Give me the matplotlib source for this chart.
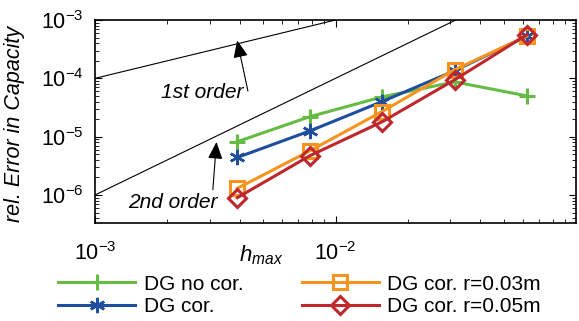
import numpy as np
import matplotlib
matplotlib.use("Agg")
import matplotlib.pyplot as plt
from matplotlib.ticker import LogLocator, NullFormatter

plt.rcParams['font.family'] = ['Liberation Sans', 'DejaVu Sans']
plt.rcParams['mathtext.fontset'] = 'custom'
plt.rcParams['mathtext.rm'] = 'Liberation Sans'
plt.rcParams['mathtext.it'] = 'Liberation Sans:italic'

# mesh size h_max
h = [1/256, 1/128, 1/64, 1/32, 1/16]

# relative error in capacity
err_nocor = [8.2e-6, 2.2e-5, 4.8e-5, 8.7e-5, 5.0e-5]
err_cor = [4.4e-6, 1.25e-5, 4.0e-5, 1.35e-4, 5.3e-4]
err_cor_r003 = [1.3e-6, 5.7e-6, 2.7e-5, 1.4e-4, 5.3e-4]
err_cor_r005 = [9.0e-7, 4.7e-6, 1.8e-5, 9.4e-5, 5.6e-4]

labels = ['DG no cor.', 'DG cor.', 'DG cor. r=0.03m', 'DG cor. r=0.05m']

# reference slopes
h_ref = [1e-3, 1e-1]

fig = plt.figure(figsize=(5.79, 3.21), dpi=100)
ax = fig.add_axes([95/579, 1 - 223/321, (576-95)/579, (223-20)/321])

ax.loglog(h_ref, [0.1*x for x in h_ref], color='black', lw=0.8)
ax.loglog(h_ref, [x**2 for x in h_ref], color='black', lw=0.8)

l1, = ax.loglog(h, err_nocor, color='#66bb44', lw=2.2, marker='+', ms=11, mew=2.2, label=labels[0])
l2, = ax.loglog(h, err_cor, color='#1f4e9e', lw=2.2, marker=(6, 2, 0), ms=11, mew=1.8, label=labels[1])
l3, = ax.loglog(h, err_cor_r003, color='#f7941d', lw=2.2, marker='s', ms=9.5, mew=2.2,
                mfc='none', label=labels[2])
l4, = ax.loglog(h, err_cor_r005, color='#c0272d', lw=2.2, marker='D', ms=9, mew=2.2,
                mfc='none', label=labels[3])

ax.set_xlim(1e-3, 1e-1)
ax.set_ylim(10**-6.48, 1e-3)

ax.set_xticks([1e-3, 1e-2])
ax.set_xticklabels([r'$10^{-3}$', r'$10^{-2}$'])
ax.set_yticks([1e-6, 1e-5, 1e-4, 1e-3])
ax.set_yticklabels([r'$10^{-6}$', r'$10^{-5}$', r'$10^{-4}$', r'$10^{-3}$'])
ax.xaxis.set_minor_locator(LogLocator(base=10, subs=np.arange(2, 10), numticks=20))
ax.yaxis.set_minor_locator(LogLocator(base=10, subs=np.arange(2, 10), numticks=20))
ax.xaxis.set_minor_formatter(NullFormatter())
ax.yaxis.set_minor_formatter(NullFormatter())
ax.tick_params(which='both', direction='in', top=True, right=True, labelsize=15.5)
ax.tick_params(which='major', length=5)
ax.tick_params(which='minor', length=3)
ax.tick_params(axis='x', pad=14)
ax.tick_params(axis='y', pad=8)
for s in ax.spines.values():
    s.set_linewidth(1.2)

ax.set_ylabel('rel. Error in Capacity', fontsize=15.5, style='italic')
ax.yaxis.set_label_coords(-0.145, 0.49)
ax.set_xlabel(r'$h_{max}$', fontsize=16)
ax.xaxis.set_label_coords(0.345, -0.1)

ax.annotate('1st order', xy=(3.9e-3, 10**-3.35), xytext=(2.8e-3, 10**-4.25),
            fontsize=15, style='italic', ha='center', va='center',
            arrowprops=dict(arrowstyle='-|>,head_length=0.7,head_width=0.3', color='black',
                            lw=0.8, shrinkA=0, shrinkB=0,
                            relpos=(1.05, 0.6)))
ax.annotate('2nd order', xy=(3.2e-3, 10**-5.09), xytext=(2.1e-3, 10**-6.12),
            fontsize=15, style='italic', ha='center', va='center',
            arrowprops=dict(arrowstyle='-|>,head_length=0.7,head_width=0.3', color='black',
                            lw=0.8, shrinkA=0, shrinkB=0,
                            relpos=(0.95, 1.1)))

leg = fig.legend(handles=[l1, l2, l3, l4], labels=labels, ncol=2, frameon=False,
                 fontsize=15, loc='lower left', bbox_to_anchor=(50/579, -0.01),
                 handlelength=3.7, handletextpad=0.4, columnspacing=2.8,
                 labelspacing=0.15, borderaxespad=0)

fig.savefig('out.png', dpi=100)
